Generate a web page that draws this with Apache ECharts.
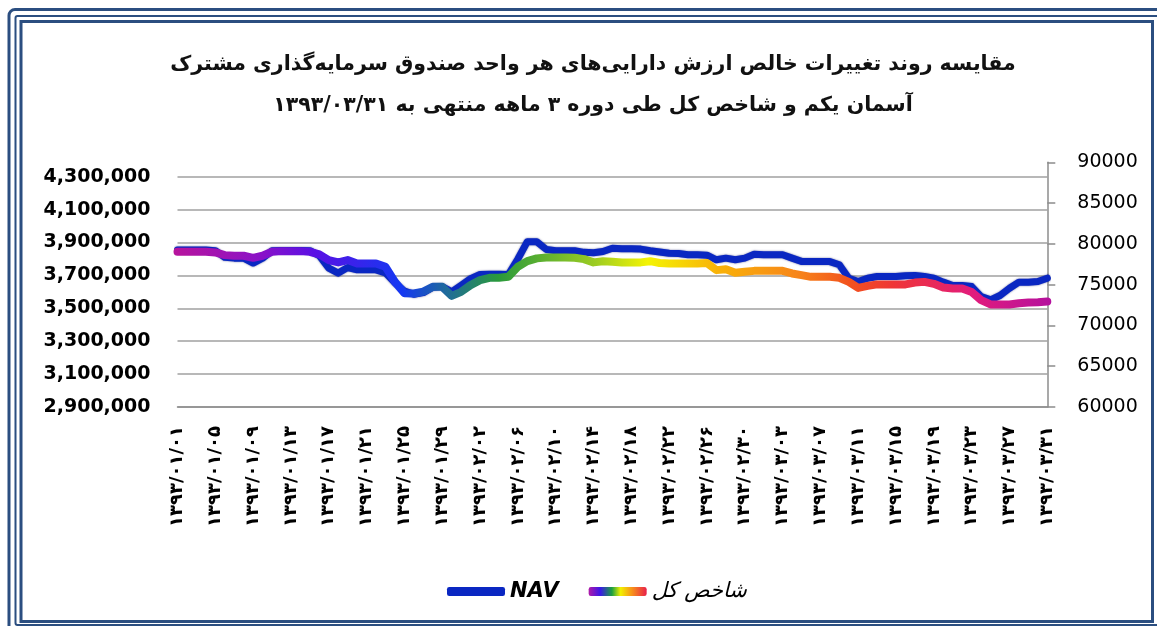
<!DOCTYPE html>
<html>
<head>
<meta charset="utf-8">
<style>
  html, body { margin: 0; padding: 0; background: #fff; }
  #chart { width: 1157px; height: 626px; }
</style>
<script src="https://cdn.jsdelivr.net/npm/echarts@6/dist/echarts.min.js"></script>
</head>
<body>
<div id="chart"></div>
<script>
var chart = echarts.init(document.getElementById("chart"));

// روزهای ۱۳۹۳/۰۱/۰۱ تا ۱۳۹۳/۰۳/۳۱
var dates = [
    '1393/01/01', '1393/01/02', '1393/01/03', '1393/01/04', '1393/01/05', '1393/01/06', '1393/01/07', '1393/01/08', '1393/01/09', '1393/01/10',
    '1393/01/11', '1393/01/12', '1393/01/13', '1393/01/14', '1393/01/15', '1393/01/16', '1393/01/17', '1393/01/18', '1393/01/19', '1393/01/20',
    '1393/01/21', '1393/01/22', '1393/01/23', '1393/01/24', '1393/01/25', '1393/01/26', '1393/01/27', '1393/01/28', '1393/01/29', '1393/01/30',
    '1393/01/31', '1393/02/01', '1393/02/02', '1393/02/03', '1393/02/04', '1393/02/05', '1393/02/06', '1393/02/07', '1393/02/08', '1393/02/09',
    '1393/02/10', '1393/02/11', '1393/02/12', '1393/02/13', '1393/02/14', '1393/02/15', '1393/02/16', '1393/02/17', '1393/02/18', '1393/02/19',
    '1393/02/20', '1393/02/21', '1393/02/22', '1393/02/23', '1393/02/24', '1393/02/25', '1393/02/26', '1393/02/27', '1393/02/28', '1393/02/29',
    '1393/02/30', '1393/02/31', '1393/03/01', '1393/03/02', '1393/03/03', '1393/03/04', '1393/03/05', '1393/03/06', '1393/03/07', '1393/03/08',
    '1393/03/09', '1393/03/10', '1393/03/11', '1393/03/12', '1393/03/13', '1393/03/14', '1393/03/15', '1393/03/16', '1393/03/17', '1393/03/18',
    '1393/03/19', '1393/03/20', '1393/03/21', '1393/03/22', '1393/03/23', '1393/03/24', '1393/03/25', '1393/03/26', '1393/03/27', '1393/03/28',
    '1393/03/29', '1393/03/30', '1393/03/31'
];

// NAV (محور چپ)
var navData = [
    3855000, 3855000, 3855000, 3855000, 3850000, 3810000, 3805000, 3805000, 3775000, 3805000,
    3850000, 3852000, 3852000, 3852000, 3850000, 3820000, 3744000, 3714000, 3748000, 3734000,
    3734000, 3734000, 3715000, 3655000, 3605000, 3585000, 3595000, 3628000, 3632000, 3600000,
    3640000, 3680000, 3705000, 3707000, 3707000, 3705000, 3800000, 3905000, 3905000, 3858000,
    3850000, 3850000, 3850000, 3840000, 3838000, 3845000, 3865000, 3862000, 3862000, 3860000,
    3850000, 3842000, 3835000, 3833000, 3826000, 3825000, 3823000, 3795000, 3805000, 3795000,
    3805000, 3829000, 3826000, 3826000, 3826000, 3805000, 3785000, 3784000, 3784000, 3784000,
    3765000, 3683000, 3663000, 3683000, 3693000, 3693000, 3693000, 3698000, 3700000, 3693000,
    3683000, 3659000, 3639000, 3639000, 3632000, 3571000, 3551000, 3578000, 3622000, 3659000,
    3659000, 3663000, 3683000
];

// شاخص کل (محور راست)
var indexData = [
    79030, 79030, 79030, 79030, 78950, 78620, 78540, 78540, 78290, 78540,
    79030, 79110, 79110, 79110, 79030, 78710, 78010, 77730, 78010, 77600,
    77600, 77600, 77190, 75340, 73950, 73920, 74150, 74730, 74730, 73630,
    74120, 74940, 75550, 75840, 75840, 75960, 77190, 77880, 78220, 78340,
    78340, 78340, 78290, 78130, 77730, 77880, 77800, 77730, 77730, 77730,
    77880, 77650, 77600, 77600, 77600, 77600, 77650, 76780, 76900, 76450,
    76570, 76690, 76690, 76690, 76690, 76370, 76170, 75960, 75960, 75960,
    75840, 75340, 74600, 74850, 75030, 75030, 75030, 75030, 75250, 75340,
    75100, 74650, 74530, 74530, 74100, 73100, 72570, 72570, 72570, 72720,
    72800, 72850, 72930
];

var titleLines = [
    'مقایسه روند تغییرات خالص ارزش دارایی‌های هر واحد صندوق سرمایه‌گذاری مشترک',
    'آسمان یکم و شاخص کل طی دوره ۳ ماهه منتهی به ۱۳۹۳/۰۳/۳۱'
];
var seriesNames = ['NAV', 'شاخص کل'];

var faDigits = '۰۱۲۳۴۵۶۷۸۹';
function toFa(s) {
    return String(s).replace(/[0-9]/g, function (d) { return faDigits[+d]; });
}

var rainbow = new echarts.graphic.LinearGradient(0, 0, 1, 0, [
    { offset: 0, color: '#b8149c' },
    { offset: 0.1, color: '#8a12c8' },
    { offset: 0.16, color: '#5a10e4' },
    { offset: 0.26, color: '#1438f2' },
    { offset: 0.31, color: '#1f6a9c' },
    { offset: 0.37, color: '#2a9a3c' },
    { offset: 0.48, color: '#9ccc22' },
    { offset: 0.54, color: '#f4f404' },
    { offset: 0.62, color: '#f9b208' },
    { offset: 0.71, color: '#f7861a' },
    { offset: 0.77, color: '#f2521e' },
    { offset: 0.82, color: '#ef3636' },
    { offset: 0.91, color: '#e21c7c' },
    { offset: 1, color: '#b4109e' }
]);
// نماد راهنما: طیف فشرده
var rainbowLegend = new echarts.graphic.LinearGradient(0, 0, 1, 0, [
    { offset: 0, color: '#b01aa8' },
    { offset: 0.2, color: '#3a18e8' },
    { offset: 0.4, color: '#1aa040' },
    { offset: 0.55, color: '#f2f000' },
    { offset: 0.75, color: '#f7901a' },
    { offset: 1, color: '#e8204a' }
]);

var gridColor = '#a0a0a0';
var font = 'DejaVu Sans';

option = {
    backgroundColor: '#fff',
    animation: false,
    graphic: [
        { type: 'rect', shape: { x: 9, y: 9.5, width: 1170, height: 640, r: 6 }, style: { fill: 'none', stroke: '#2b4e80', lineWidth: 3 } },
        { type: 'rect', shape: { x: 15.5, y: 16, width: 1160, height: 609, r: 2 }, style: { fill: 'none', stroke: '#2b4e80', lineWidth: 2 } },
        { type: 'rect', shape: { x: 21, y: 21.5, width: 1131.5, height: 600, r: 0 }, style: { fill: 'none', stroke: '#2b4e80', lineWidth: 3 } }
    ],
    title: {
        text: titleLines.join('\n'),
        left: 588,
        top: 39,
        textAlign: 'center',
        textStyle: {
            fontFamily: font,
            fontSize: 20.5,
            fontWeight: 'bold',
            color: '#111',
            lineHeight: 41
        }
    },
    legend: {
        left: 442,
        top: 576,
        icon: 'roundRect',
        itemWidth: 58,
        itemHeight: 9,
        itemGap: 30,
        data: [
            { name: seriesNames[0], textStyle: { fontWeight: 'bold', fontStyle: 'italic' } },
            { name: seriesNames[1], itemStyle: { color: rainbowLegend }, textStyle: { fontWeight: 'normal', fontStyle: 'italic' } }
        ],
        textStyle: {
            fontFamily: font,
            fontSize: 21,
            color: '#000'
        }
    },
    grid: [
        { left: 177.5, right: 109.7, top: 176.7, bottom: 219 },
        { left: 177.5, right: 109.7, top: 162.3, bottom: 219 }
    ],
    xAxis: [{
        type: 'category',
        gridIndex: 0,
        data: dates,
        boundaryGap: false,
        axisLine: { lineStyle: { color: '#8c8c8c', width: 1.5 } },
        axisTick: { show: false },
        axisLabel: {
            interval: 3,
            rotate: 90,
            margin: 19,
            fontFamily: font,
            fontSize: 18,
            fontWeight: 'bold',
            color: '#000',
            formatter: function (v) { return toFa(v); }
        },
        splitLine: { show: false }
    }, {
        type: 'category',
        gridIndex: 1,
        data: dates,
        boundaryGap: false,
        show: false
    }],
    yAxis: [{
        type: 'value',
        gridIndex: 0,
        position: 'left',
        min: 2900000,
        max: 4300000,
        interval: 200000,
        axisLine: { show: false },
        axisTick: { show: false },
        splitLine: { lineStyle: { color: gridColor, width: 1.5 } },
        axisLabel: {
            margin: 27,
            fontFamily: font,
            fontSize: 19,
            fontWeight: 'bold',
            color: '#000',
            formatter: function (v) { return v.toLocaleString('en-US'); }
        }
    }, {
        type: 'value',
        gridIndex: 1,
        position: 'right',
        min: 60000,
        max: 90000,
        interval: 5000,
        axisLine: { show: true, lineStyle: { color: '#8c8c8c', width: 1.5 } },
        axisTick: { show: true, inside: false, length: 8, lineStyle: { color: '#8c8c8c', width: 1.5 } },
        splitLine: { show: false },
        axisLabel: {
            margin: 30,
            fontFamily: font,
            fontSize: 19,
            color: '#000',
            formatter: function (v) { return String(v); }
        }
    }],
    series: [{
        name: seriesNames[0],
        type: 'line',
        xAxisIndex: 0,
        yAxisIndex: 0,
        data: navData,
        symbol: 'none',
        z: 2,
        itemStyle: { color: '#0a27c2' },
        lineStyle: {
            color: '#0a27c2',
            width: 7,
            cap: 'round',
            join: 'round',
            shadowColor: 'rgba(0, 10, 100, 0.6)',
            shadowBlur: 2
        }
    }, {
        name: seriesNames[1],
        type: 'line',
        xAxisIndex: 1,
        yAxisIndex: 1,
        data: indexData,
        symbol: 'none',
        z: 3,
        itemStyle: { color: rainbow },
        lineStyle: {
            color: rainbow,
            width: 8,
            cap: 'round',
            join: 'round'
        }
    }]
};

chart.setOption(option);
window.addEventListener('resize', function () {
    chart.resize();
});
</script>
</body>
</html>
